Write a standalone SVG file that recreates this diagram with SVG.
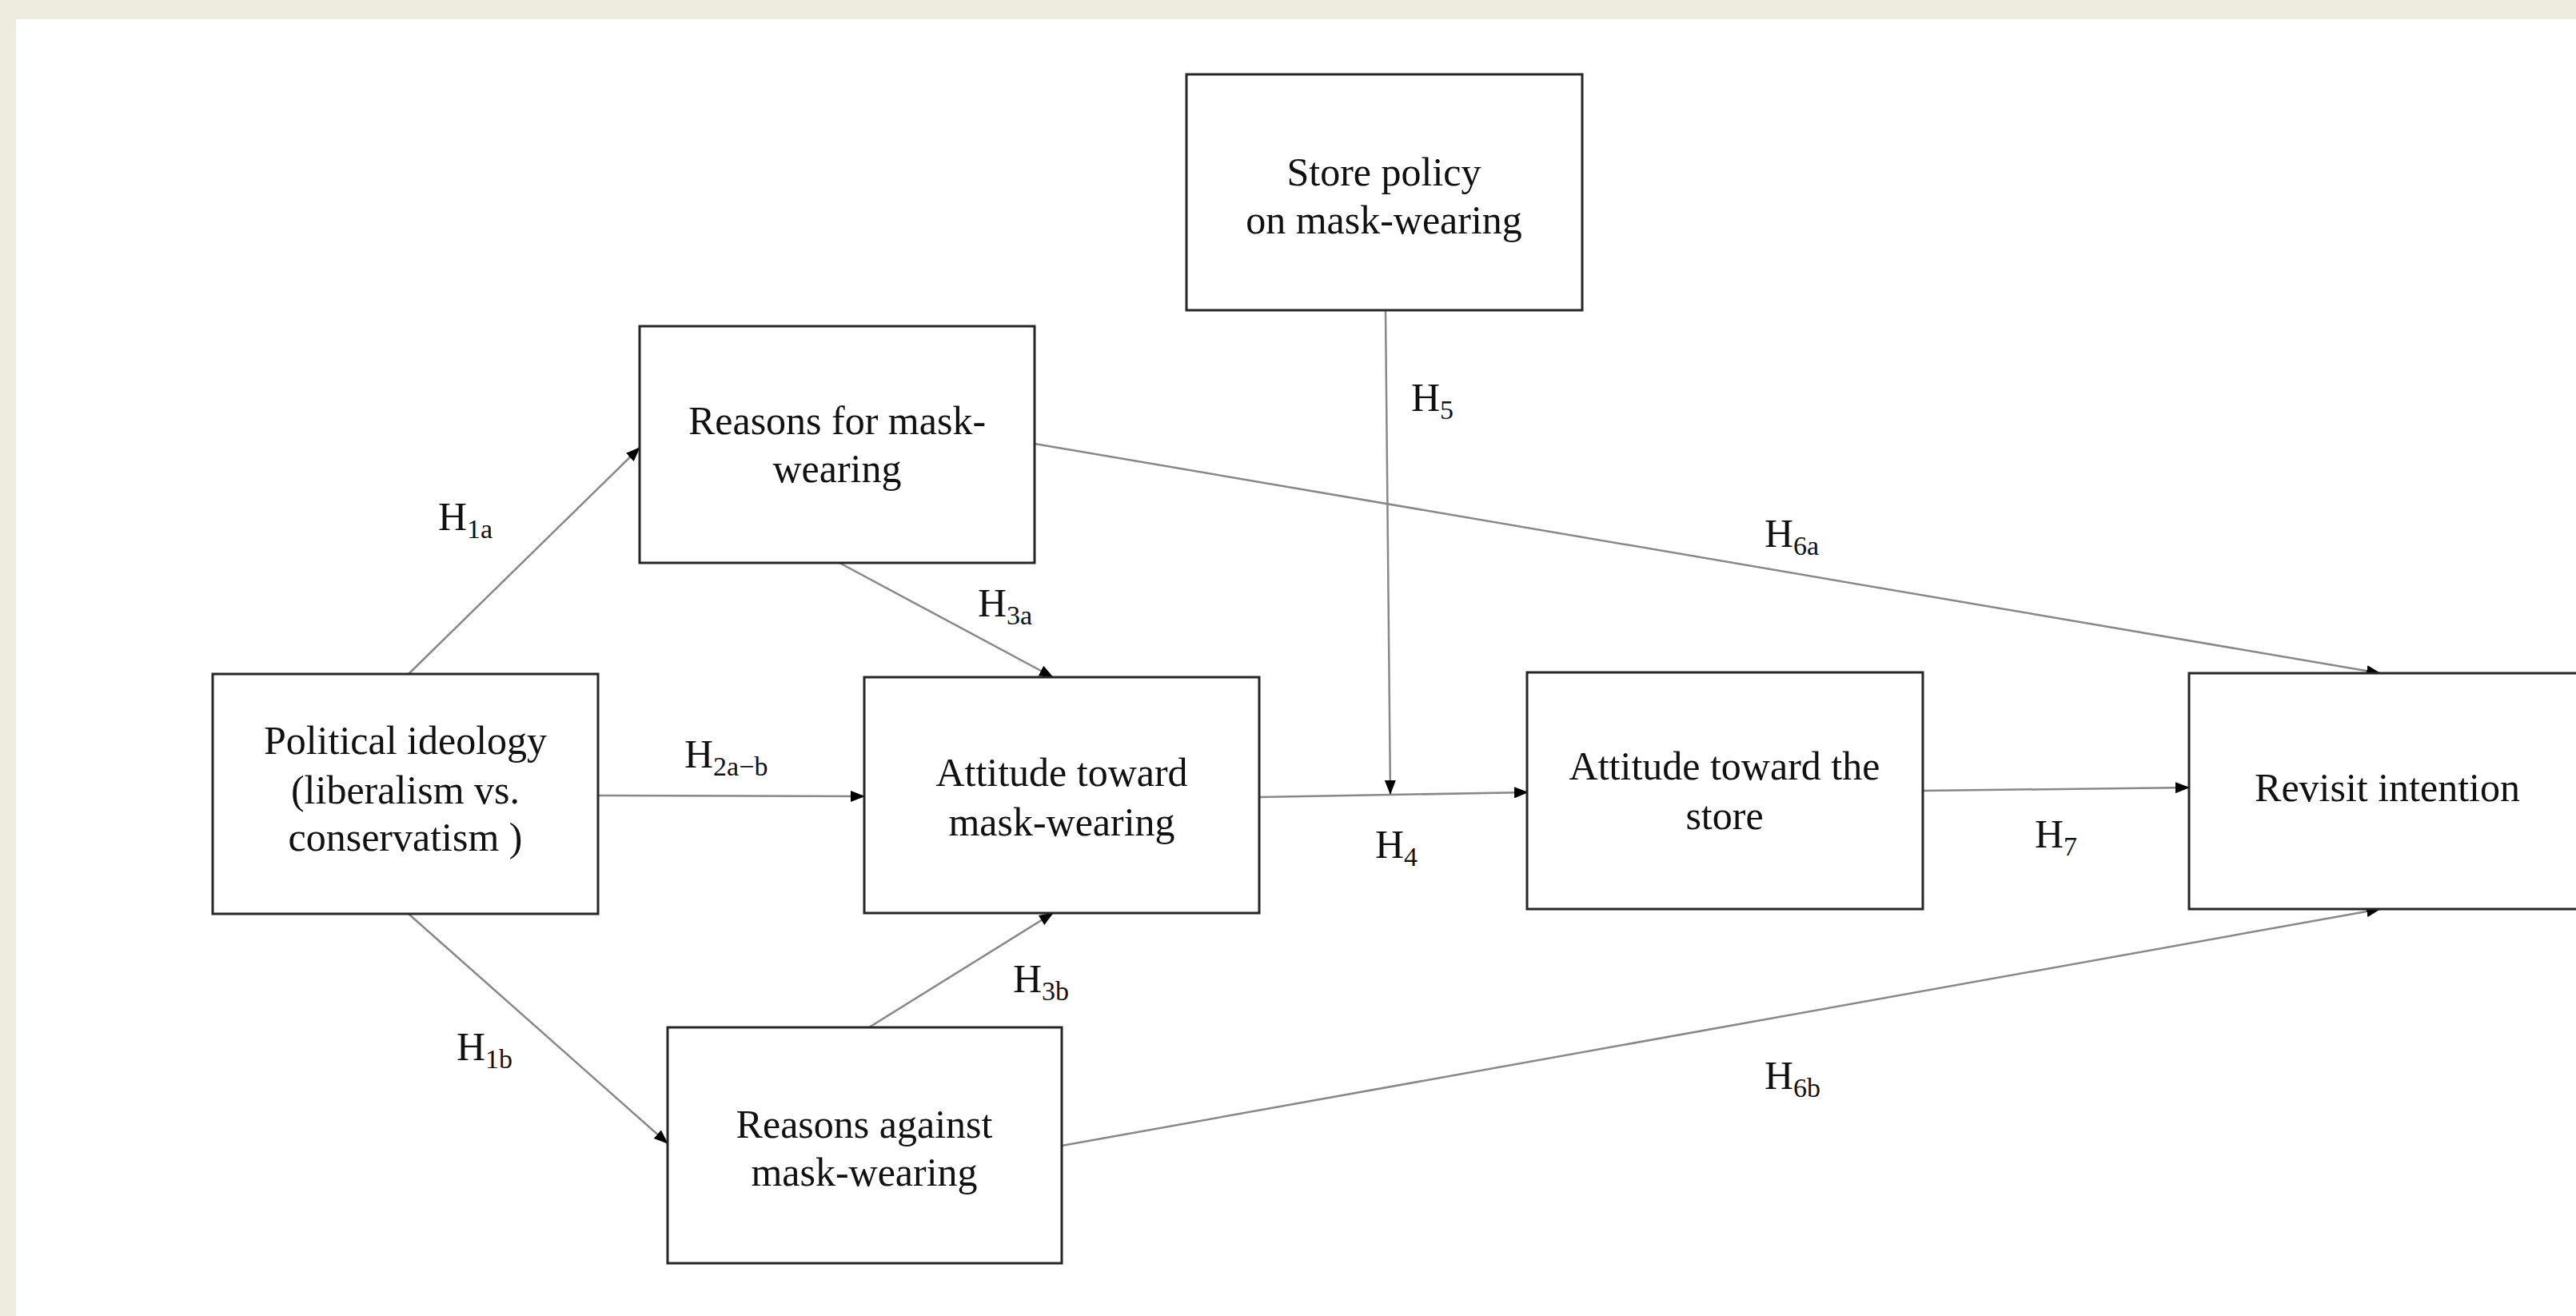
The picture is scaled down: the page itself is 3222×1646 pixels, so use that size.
<svg xmlns="http://www.w3.org/2000/svg" width="3222" height="1646" viewBox="0 0 3222 1646">
<defs>
<style>
.box{fill:#fff;stroke:#262626;stroke-width:3}
.t{font-family:"Liberation Serif","Times New Roman",serif;font-size:50px;fill:#111;text-anchor:middle}
.h{font-family:"Liberation Serif","Times New Roman",serif;font-size:50px;fill:#111}
.s{font-size:34px}
.c{fill:none;stroke:#888;stroke-width:2.5}
</style>
<marker id="ah" markerUnits="userSpaceOnUse" markerWidth="18" markerHeight="14" refX="17" refY="7" orient="auto">
<path d="M0,0 L18,7 L0,14 z" fill="#000"/>
</marker>
</defs>
<rect x="0" y="0" width="3222" height="1646" fill="#EEEBDF"/>
<rect x="20" y="24" width="3202" height="1622" fill="#fff"/>

<g id="connectors">
<line class="c" x1="511" y1="843" x2="800" y2="560" marker-end="url(#ah)"/>
<line class="c" x1="511" y1="1143" x2="835" y2="1430" marker-end="url(#ah)"/>
<line class="c" x1="748" y1="995" x2="1081" y2="996" marker-end="url(#ah)"/>
<line class="c" x1="1050" y1="704" x2="1317" y2="847" marker-end="url(#ah)"/>
<line class="c" x1="1087" y1="1285" x2="1317" y2="1142" marker-end="url(#ah)"/>
<line class="c" x1="1575" y1="997" x2="1911" y2="991" marker-end="url(#ah)"/>
<line class="c" x1="1733" y1="388" x2="1739" y2="993" marker-end="url(#ah)"/>
<line class="c" x1="1294" y1="555" x2="2977" y2="842" marker-end="url(#ah)"/>
<line class="c" x1="1328" y1="1433" x2="2977" y2="1137" marker-end="url(#ah)"/>
<line class="c" x1="2405" y1="989" x2="2738" y2="985" marker-end="url(#ah)"/>
</g>

<g id="labels">
<text class="h" x="548" y="663">H<tspan class="s" dy="10">1a</tspan></text>
<text class="h" x="571" y="1326">H<tspan class="s" dy="10">1b</tspan></text>
<text class="h" x="856" y="960">H<tspan class="s" dy="10">2a−b</tspan></text>
<text class="h" x="1223" y="771">H<tspan class="s" dy="10">3a</tspan></text>
<text class="h" x="1267" y="1241">H<tspan class="s" dy="10">3b</tspan></text>
<text class="h" x="1720" y="1073">H<tspan class="s" dy="10">4</tspan></text>
<text class="h" x="1765" y="514">H<tspan class="s" dy="10">5</tspan></text>
<text class="h" x="2207" y="684">H<tspan class="s" dy="10">6a</tspan></text>
<text class="h" x="2207" y="1362">H<tspan class="s" dy="10">6b</tspan></text>
<text class="h" x="2545" y="1060">H<tspan class="s" dy="10">7</tspan></text>
</g>

<g id="node-store-policy">
<rect class="box" x="1484" y="93" width="495" height="295"/>
<text class="t" x="1731" y="232">Store policy</text>
<text class="t" x="1731" y="292">on mask-wearing</text>
</g>
<g id="node-reasons-for">
<rect class="box" x="800" y="408" width="494" height="296"/>
<text class="t" x="1047" y="543">Reasons  for mask-</text>
<text class="t" x="1047" y="603">wearing</text>
</g>
<g id="node-political">
<rect class="box" x="266" y="843" width="482" height="300"/>
<text class="t" x="507" y="943">Political ideology</text>
<text class="t" x="507" y="1005">(liberalism vs.</text>
<text class="t" x="507" y="1064">conservatism  )</text>
</g>
<g id="node-attitude-mask">
<rect class="box" x="1081" y="847" width="494" height="295"/>
<text class="t" x="1328" y="983">Attitude toward</text>
<text class="t" x="1328" y="1045">mask-wearing</text>
</g>
<g id="node-attitude-store">
<rect class="box" x="1910" y="841" width="495" height="296"/>
<text class="t" x="2157" y="975">Attitude toward the</text>
<text class="t" x="2157" y="1037">store</text>
</g>
<g id="node-revisit">
<rect class="box" x="2738" y="842" width="494" height="295"/>
<text class="t" x="2986" y="1002">Revisit intention</text>
</g>
<g id="node-reasons-against">
<rect class="box" x="835" y="1285" width="493" height="295"/>
<text class="t" x="1081" y="1423">Reasons  against</text>
<text class="t" x="1081" y="1483">mask-wearing</text>
</g>
</svg>
